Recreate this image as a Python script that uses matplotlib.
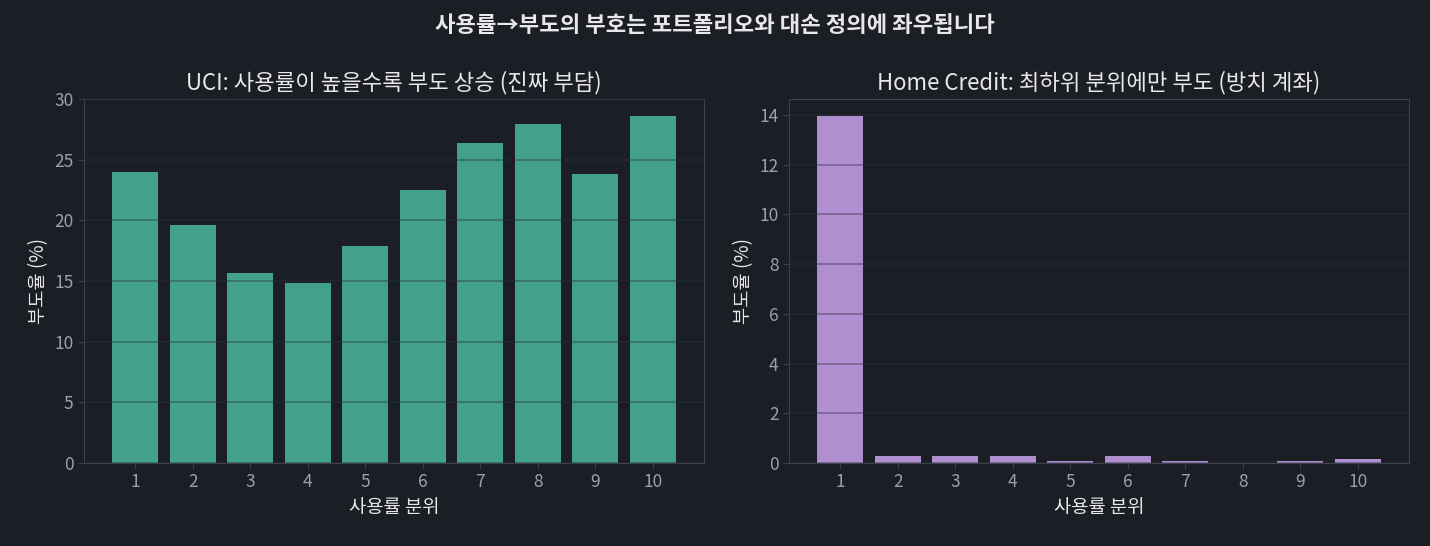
import matplotlib.pyplot as plt

plt.rcParams['font.family'] = ['Noto Sans CJK KR', 'DejaVu Sans']

deciles = list(range(1, 11))
uci_rate = [24.0, 19.6, 15.7, 14.8, 17.9, 22.5, 26.4, 27.9, 23.8, 28.6]
hc_rate = [13.95, 0.28, 0.28, 0.28, 0.08, 0.28, 0.08, 0.0, 0.08, 0.16]

suptitle = "사용률→부도의 부호는 포트폴리오와 대손 정의에 좌우됩니다"
titles = ["UCI: 사용률이 높을수록 부도 상승 (진짜 부담)",
          "Home Credit: 최하위 분위에만 부도 (방치 계좌)"]
xlabel = "사용률 분위"
ylabel = "부도율 (%)"

bg = '#1b1e25'
fg = '#e8e8e8'
tick_c = '#9ba1ab'
spine_c = '#3c414c'

fig = plt.figure(figsize=(14.3, 5.46), dpi=100, facecolor=bg)
ax1 = fig.add_axes([84/1430, 1-463/546, 620/1430, 364/546])
ax2 = fig.add_axes([789/1430, 1-463/546, 620/1430, 364/546])

for ax, vals, col, t in [(ax1, uci_rate, '#43a08b', titles[0]),
                         (ax2, hc_rate, '#b08fd0', titles[1])]:
    ax.set_facecolor(bg)
    ax.bar(deciles, vals, width=0.8, color=col, zorder=1)
    ax.grid(axis='y', color='#2a2e36', alpha=0.45, linewidth=1.2, zorder=2)
    ax.set_axisbelow(False)
    ax.set_xticks(deciles)
    ax.set_title(t, color=fg, fontsize=16, pad=7)
    ax.set_xlabel(xlabel, color=fg, fontsize=13.5)
    ax.set_ylabel(ylabel, color=fg, fontsize=13.5)
    ax.tick_params(colors=tick_c, labelsize=12.5, length=4)
    ax.tick_params(axis='both', color=spine_c)
    for s in ax.spines.values():
        s.set_color(spine_c)

ax1.set_ylim(0, 30)
ax2.set_yticks([0, 2, 4, 6, 8, 10, 12, 14])

fig.suptitle(suptitle, color=fg, fontsize=16, fontweight='bold', y=0.975)

fig.savefig('out.png', dpi=100, facecolor=bg)
